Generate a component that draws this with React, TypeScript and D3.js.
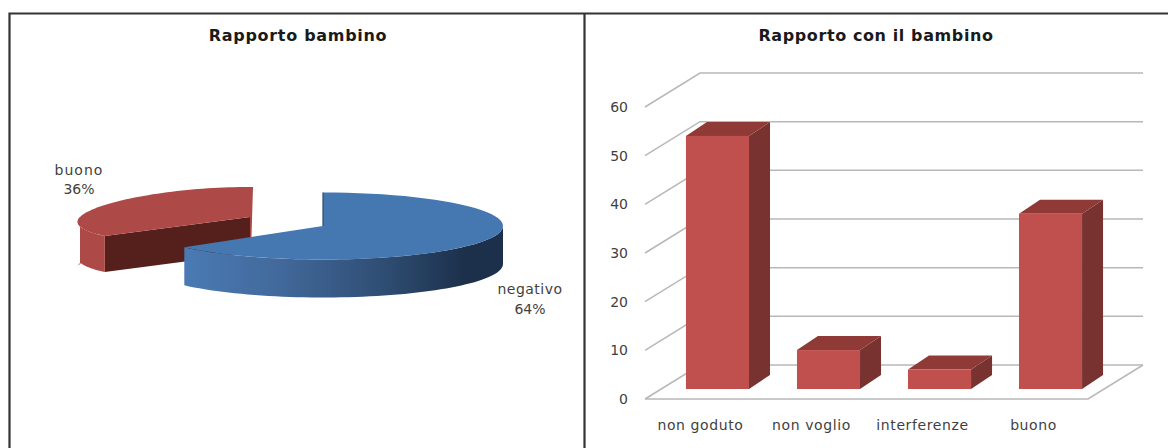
import React from "react";
import * as d3 from "d3";

// Left chart: share of answers
const pieCategories = ["negativo", "buono"];
const pieValues = [64, 36];

// Right chart: answer counts
const barCategories = ["non goduto", "non voglio", "interferenze", "buono"];
const barValues = [52, 8, 4, 36];
const yTicks = [0, 10, 20, 30, 40, 50, 60];

const FONT = "'DejaVu Sans', Verdana, sans-serif";
const TEXT = "#3f3f3f";

// Projection of each pie slice: centre, radii, extrusion, a slight perspective
// widening (k) and extra sag of the lower edge towards the far left (sag)
const blueDisc = { cx: 323, cy: 226, rx: 180, ry: 33.5, depth: 38, k: 0, sag: 0 };
const redDisc = { cx: 250, cy: 217, rx: 170, ry: 30, depth: 36, k: 0.17, sag: 10 };
type Disc = typeof blueDisc;

const project = (d: Disc, a: number, extrude = false): [number, number] => {
  const y = -Math.cos(a);
  const widen = 1 + d.k * y;
  const drop = extrude
    ? d.depth + (d.sag * Math.max(0, -Math.sin(a) - 0.94)) / 0.06
    : 0;
  return [d.cx + d.rx * Math.sin(a) * widen, d.cy + d.ry * y + drop];
};

const samples = (a0: number, a1: number) =>
  d3.range(0, 61).map((i) => a0 + ((a1 - a0) * i) / 60);

const pathOf = d3.line();

const topFace = (d: Disc, a0: number, a1: number) =>
  pathOf([[d.cx, d.cy], ...samples(a0, a1).map((a) => project(d, a))]) + "Z";

const rimFace = (d: Disc, a0: number, a1: number) => {
  const s = samples(a0, a1);
  return (
    pathOf([
      ...s.map((a) => project(d, a)),
      ...[...s].reverse().map((a) => project(d, a, true)),
    ]) + "Z"
  );
};

const cutFace = (d: Disc, a: number) => {
  const p = project(d, a);
  return (
    pathOf([
      [d.cx, d.cy],
      p,
      [p[0], p[1] + d.depth],
      [d.cx, d.cy + d.depth],
    ]) + "Z"
  );
};

const slices = d3
  .pie<number>()
  .sort(null)
  .startAngle(0)
  .endAngle(2 * Math.PI)(pieValues);

// Bar chart scales: floor plane in front, wall behind it
const y = d3.scaleLinear().domain([0, 60]).range([399, 107]);
const wall = { dx: 55, dy: -34 };
const inset = { dx: 17, dy: -10 };
const barDepth = { dx: 21, dy: -14 };
const x = d3
  .scaleBand<string>()
  .domain(barCategories)
  .range([638, 1130])
  .padding(0.432);
const floorLeft = 645;
const floorRight = 1088;

const poly = (pts: [number, number][]) => pathOf(pts) + "Z";

export default function App() {
  const [blue, red] = slices;
  const redEnd = 2 * Math.PI;
  const redCorner = project(redDisc, redEnd);
  return (
    <svg
      width={1168}
      height={448}
      style={{ position: "absolute", left: 0, top: 0, background: "#fff" }}
      fontFamily={FONT}
    >
      <defs>
        <linearGradient id="blueRim" x1="0" x2="1" y1="0" y2="0">
          <stop offset="0" stopColor="#4a7ab4" />
          <stop offset="0.3" stopColor="#42699b" />
          <stop offset="0.62" stopColor="#2f4e74" />
          <stop offset="0.88" stopColor="#1c304b" />
          <stop offset="1" stopColor="#1c304b" />
        </linearGradient>
      </defs>

      {/* Panel frame */}
      <g fill="none" stroke="#333" strokeWidth={2.2}>
        <path d="M1168,13.5H9.5V448" />
        <path d="M584.5,13.5V448" />
      </g>

      {/* Pie chart */}
      <text
        x={298}
        y={41}
        textAnchor="middle"
        fontSize={16}
        letterSpacing={0.7}
        fontWeight="bold"
        fill="#1a1a1a"
      >
        Rapporto bambino
      </text>
      <path d={cutFace(redDisc, red.startAngle)} fill="#551f1c" />
      <path
        d={poly([
          redCorner,
          [redCorner[0] + 3, redCorner[1]],
          [redCorner[0] + 1, redDisc.cy + redDisc.depth],
          [redDisc.cx, redDisc.cy + redDisc.depth],
          [redDisc.cx, redDisc.cy],
        ])}
        fill="#ad4a47"
      />
      <path d={rimFace(redDisc, red.startAngle, (3 * Math.PI) / 2)} fill="#ad4a47" />
      <path d={topFace(redDisc, red.startAngle, red.endAngle)} fill="#ad4a47" />
      <path d={rimFace(blueDisc, Math.PI / 2, blue.endAngle)} fill="url(#blueRim)" />
      <path d={topFace(blueDisc, blue.startAngle, blue.endAngle)} fill="#4577b0" />
      <path
        d={`M${blueDisc.cx},${blueDisc.cy - blueDisc.ry}V${blueDisc.cy}`}
        stroke="#2b4a6f"
        strokeWidth={1.2}
      />
      <g fontSize={14} fill={TEXT} textAnchor="middle">
        <text x={79} y={175} letterSpacing={1}>{pieCategories[1]}</text>
        <text x={79} y={194}>{pieValues[1]}%</text>
        <text x={530} y={294} letterSpacing={0.5}>{pieCategories[0]}</text>
        <text x={530} y={314}>{pieValues[0]}%</text>
      </g>

      {/* Bar chart */}
      <text
        x={876}
        y={41}
        textAnchor="middle"
        fontSize={16}
        letterSpacing={0.6}
        fontWeight="bold"
        fill="#1a1a1a"
      >
        Rapporto con il bambino
      </text>
      <g fill="none" stroke="#b8b8b8" strokeWidth={1.5}>
        {yTicks.map((t) => (
          <path
            key={t}
            d={pathOf([
              [floorLeft, y(t)],
              [floorLeft + wall.dx, y(t) + wall.dy],
              [floorRight + wall.dx, y(t) + wall.dy],
            ])!}
          />
        ))}
        <path
          d={pathOf([
            [floorLeft, y(0)],
            [floorRight, y(0)],
            [floorRight + wall.dx, y(0) + wall.dy],
          ])!}
        />
      </g>
      {barCategories.map((c, i) => {
        const x0 = x(c)!;
        const x1 = x0 + x.bandwidth();
        const base = y(0) + inset.dy;
        const top = base - (y(0) - y(barValues[i]));
        return (
          <g key={c}>
            <path
              d={poly([
                [x1, base],
                [x1 + barDepth.dx, base + barDepth.dy],
                [x1 + barDepth.dx, top + barDepth.dy],
                [x1, top],
              ])}
              fill="#783230"
            />
            <path
              d={poly([
                [x0, top],
                [x0 + barDepth.dx, top + barDepth.dy],
                [x1 + barDepth.dx, top + barDepth.dy],
                [x1, top],
              ])}
              fill="#8f3a37"
            />
            <rect x={x0} y={top} width={x1 - x0} height={base - top} fill="#c0504d" />
          </g>
        );
      })}
      <g fontSize={14} fill={TEXT}>
        {yTicks.map((t) => (
          <text key={t} x={628} y={y(t) + 5} textAnchor="end">
            {t}
          </text>
        ))}
        {barCategories.map((c) => (
          <text
            key={c}
            x={x(c)! + x.bandwidth() / 2 - inset.dx}
            y={430}
            textAnchor="middle"
            letterSpacing={0.6}
          >
            {c}
          </text>
        ))}
      </g>
    </svg>
  );
}
